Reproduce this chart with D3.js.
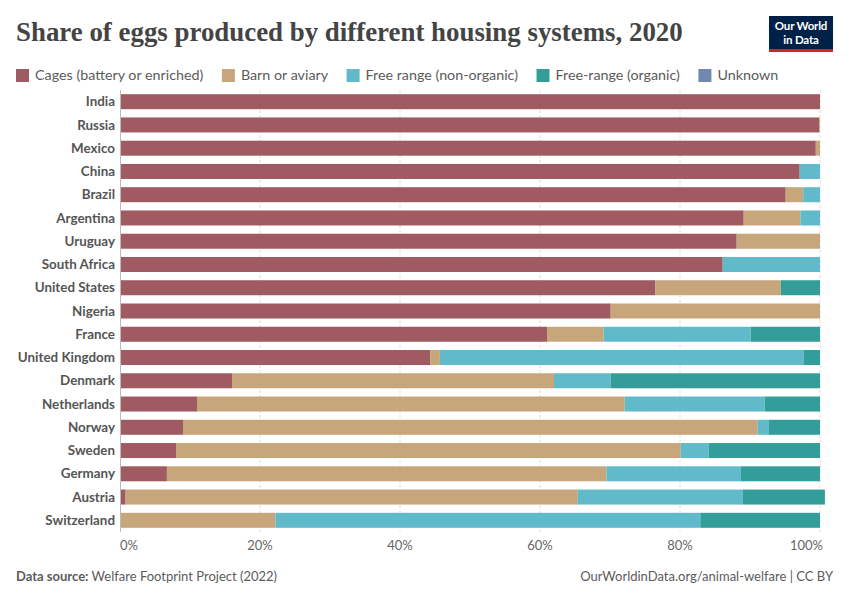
<!DOCTYPE html>
<html>
<head>
<meta charset="utf-8">
<script src="https://cdn.jsdelivr.net/npm/d3@7"></script>
<style>
  body { margin: 0; background: #fff; }
  svg { display: block; font-family: Lato, "Noto Sans", sans-serif; }
</style>
</head>
<body>
<div id="chart"></div>
<script>
// Share of eggs by housing system, 2020

const countries = ["India", "Russia", "Mexico", "China", "Brazil", "Argentina", "Uruguay",
  "South Africa", "United States", "Nigeria", "France", "United Kingdom", "Denmark",
  "Netherlands", "Norway", "Sweden", "Germany", "Austria", "Switzerland"];

const seriesNames = ["Cages (battery or enriched)", "Barn or aviary", "Free range (non-organic)",
  "Free-range (organic)", "Unknown"];

// one array per series, same order as countries
const cages    = [100, 99.9, 99.4, 97.1, 95.1, 89.1, 88.1, 86.1, 76.5, 70.1, 61.0, 44.3, 16.0, 11.0, 9.0, 8.0, 6.7, 0.8, 0];
const barn     = [0, 0.1, 0.6, 0, 2.5, 8.1, 11.9, 0, 17.9, 29.9, 8.1, 1.4, 46.0, 61.1, 82.1, 72.1, 62.8, 64.6, 22.2];
const freeRange = [0, 0, 0, 2.9, 2.4, 2.8, 0, 13.9, 0, 0, 21.0, 52.0, 8.1, 20.0, 1.6, 4.0, 19.2, 23.6, 60.7];
const organic  = [0, 0, 0, 0, 0, 0, 0, 0, 5.6, 0, 9.9, 2.3, 29.9, 7.9, 7.3, 15.9, 11.3, 11.7, 17.1];
const unknown  = [0, 0, 0, 0, 0, 0, 0, 0, 0, 0, 0, 0, 0, 0, 0, 0, 0, 0, 0];

const xTicks = [0, 20, 40, 60, 80, 100];

const colors = ["#a05a61", "#c8a67b", "#60bac9", "#339e99", "#7189b0"];

const width = 850;
const height = 600;

// build rows for the stack layout
const keys = ["cages", "barn", "freeRange", "organic", "unknown"];
const rows = countries.map((c, i) => ({
  country: c,
  cages: cages[i],
  barn: barn[i],
  freeRange: freeRange[i],
  organic: organic[i],
  unknown: unknown[i]
}));

const svg = d3.select("#chart")
  .append("svg")
  .attr("width", width)
  .attr("height", height);

// Title
const title = svg.append("text")
  .attr("x", 16)
  .attr("y", 41)
  .style("font-family", "'Liberation Serif', 'DejaVu Serif', serif")
  .style("font-weight", "bold")
  .style("font-size", "26px")
  .style("fill", "#444")
  .text("Share of eggs produced by different housing systems, 2020");

// fit the title to the width of the original
const tw = title.node().getComputedTextLength();
title.style("font-size", (26 * 667 / tw) + "px");

// Logo
const logo = svg.append("g").attr("transform", "translate(769,16)");
logo.append("rect").attr("width", 64).attr("height", 36).attr("fill", "#002147");
logo.append("rect").attr("y", 33).attr("width", 64).attr("height", 3).attr("fill", "#ce261e");
logo.append("text")
  .attr("x", 32).attr("y", 14)
  .attr("text-anchor", "middle")
  .style("font-size", "11.5px").style("font-weight", "bold").style("fill", "#fff")
  .style("letter-spacing", "-0.2px")
  .text("Our World");
logo.append("text")
  .attr("x", 32).attr("y", 28)
  .attr("text-anchor", "middle")
  .style("font-size", "11.5px").style("font-weight", "bold").style("fill", "#fff")
  .style("letter-spacing", "-0.2px")
  .text("in Data");

// Legend
const legend = svg.append("g").attr("transform", "translate(16,69)");
let lx = 0;
seriesNames.forEach(function (name, i) {
  const item = legend.append("g").attr("transform", "translate(" + lx + ",0)");
  item.append("rect")
    .attr("width", 13).attr("height", 13)
    .attr("fill", colors[i]);
  const t = item.append("text")
    .attr("x", 19).attr("y", 11)
    .style("font-size", "14.3px")
    .style("fill", "#5b5b5b")
    .text(name);
  lx += 19 + t.node().getComputedTextLength() + 18.5;
});

// Scales
const x = d3.scaleLinear().domain([0, 100]).range([120, 820]);

const y = d3.scaleBand()
  .domain(countries)
  .range([90, 532])
  .paddingInner(0.355)
  .paddingOuter(0.18);

// Gridlines
svg.append("g")
  .selectAll("line")
  .data(xTicks.filter(d => d > 0))
  .join("line")
  .attr("x1", d => x(d)).attr("x2", d => x(d))
  .attr("y1", 90).attr("y2", 532)
  .attr("stroke", "#ddd")
  .attr("stroke-dasharray", "3,2");

// Stacked bars
const stacked = d3.stack().keys(keys)(rows);

svg.append("g")
  .selectAll("g")
  .data(stacked)
  .join("g")
  .attr("fill", (d, i) => colors[i])
  .selectAll("rect")
  .data(d => d)
  .join("rect")
  .attr("x", d => x(d[0]))
  .attr("y", d => y(d.data.country))
  .attr("width", d => Math.max(0, x(d[1]) - x(d[0])))
  .attr("height", y.bandwidth());

// Y axis line
svg.append("line")
  .attr("x1", 120.5).attr("x2", 120.5)
  .attr("y1", 90).attr("y2", 532)
  .attr("stroke", "#bbb");

// Country labels
svg.append("g")
  .selectAll("text")
  .data(countries)
  .join("text")
  .attr("x", 115)
  .attr("y", d => y(d) + y.bandwidth() / 2)
  .attr("dy", "0.35em")
  .attr("text-anchor", "end")
  .style("font-size", "13.4px")
  .style("font-weight", "bold")
  .style("fill", "#555")
  .text(d => d);

// X tick labels
svg.append("g")
  .selectAll("text")
  .data(xTicks)
  .join("text")
  .attr("x", d => d === 0 ? x(d) : d === 100 ? x(d) + 3 : x(d))
  .attr("y", 550)
  .attr("text-anchor", d => d === 0 ? "start" : d === 100 ? "end" : "middle")
  .style("font-size", "13px")
  .style("fill", "#666")
  .text(d => d + "%");

// Footer
const source = svg.append("text")
  .attr("x", 16)
  .attr("y", 581)
  .style("font-size", "13px")
  .style("fill", "#5b5b5b");
source.append("tspan").style("font-weight", "bold").text("Data source: ");
source.append("tspan").text("Welfare Footprint Project (2022)");

svg.append("text")
  .attr("x", 833)
  .attr("y", 581)
  .attr("text-anchor", "end")
  .style("font-size", "13px")
  .style("fill", "#5b5b5b")
  .text("OurWorldinData.org/animal-welfare | CC BY");
</script>
</body>
</html>
